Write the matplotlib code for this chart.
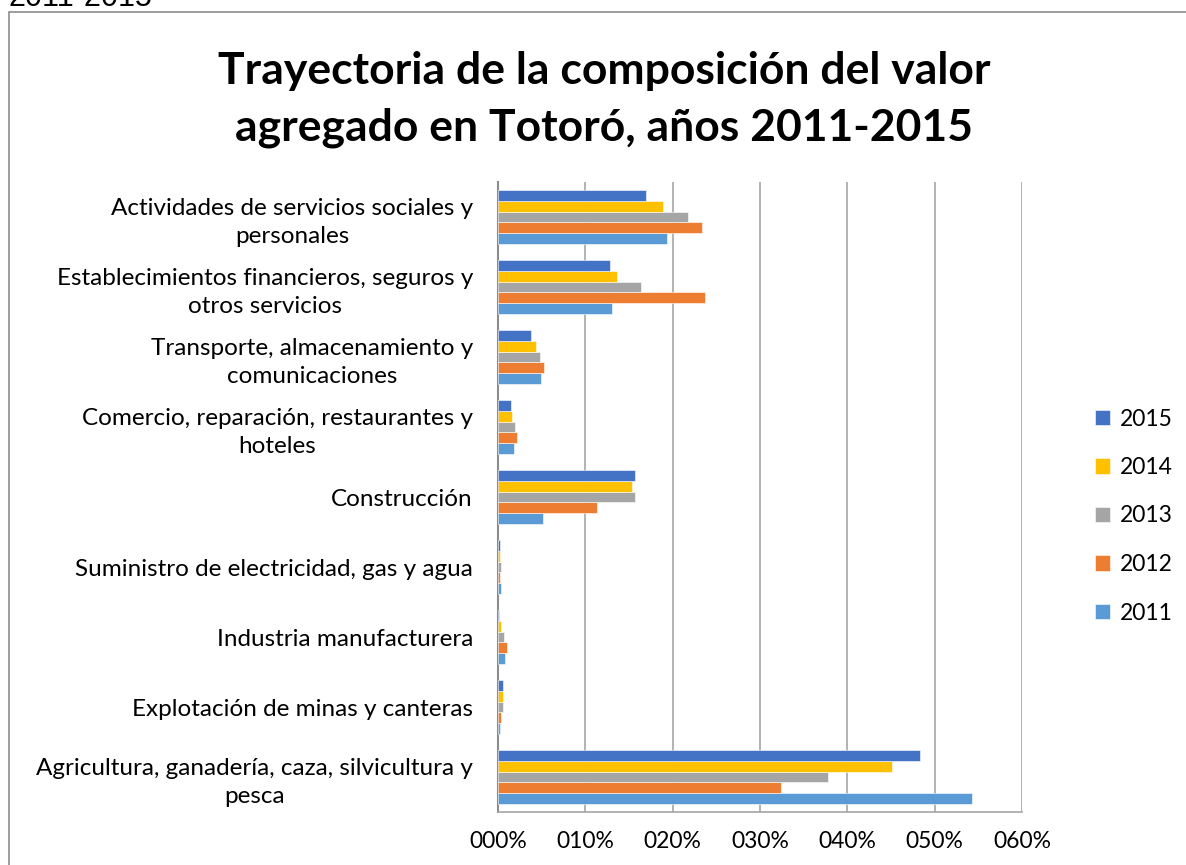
import numpy as np
import matplotlib
matplotlib.use("Agg")
import matplotlib.pyplot as plt
from matplotlib.patches import Rectangle
from matplotlib.ticker import FuncFormatter

# categorias, de abajo hacia arriba (orden de Excel)
categorias = [
    "Agricultura, ganadería, caza, silvicultura y\npesca",
    "Explotación de minas y canteras",
    "Industria manufacturera",
    "Suministro de electricidad, gas y agua",
    "Construcción",
    "Comercio, reparación, restaurantes y\nhoteles",
    "Transporte, almacenamiento y\ncomunicaciones",
    "Establecimientos financieros, seguros y\notros servicios",
    "Actividades de servicios sociales y\npersonales",
]

anios = ["2011", "2012", "2013", "2014", "2015"]

v2011 = [0.5425, 0.0020, 0.0084, 0.0030, 0.0520, 0.0188, 0.0490, 0.1300, 0.1940]
v2012 = [0.3237, 0.0038, 0.0100, 0.0027, 0.1137, 0.0218, 0.0530, 0.2370, 0.2340]
v2013 = [0.3774, 0.0054, 0.0073, 0.0038, 0.1565, 0.0195, 0.0480, 0.1636, 0.2176]
v2014 = [0.4506, 0.0054, 0.0035, 0.0023, 0.1530, 0.0165, 0.0430, 0.1360, 0.1890]
v2015 = [0.4836, 0.0054, 0.0010, 0.0020, 0.1570, 0.0146, 0.0380, 0.1280, 0.1690]

valores = [v2011, v2012, v2013, v2014, v2015]
colores = ["#5B9BD5", "#ED7D31", "#A5A5A5", "#FFC000", "#4472C4"]

plt.rcParams['font.family'] = ['Lato', 'DejaVu Sans']

fig = plt.figure(figsize=(11.86, 8.65), dpi=100)
ax = fig.add_axes([498/1186, 1 - 812/865, 524/1186, 630/865])

y = np.arange(len(categorias))
alto = 0.1526
for i, (anio, vals) in enumerate(zip(anios, valores)):
    off = (i - 2) * alto
    ax.barh(y + off, vals, height=alto, color=colores[i], label=anio,
            edgecolor="white", linewidth=0.4, zorder=3)

ax.set_xlim(0, 0.6)
ax.set_ylim(-0.5, len(categorias) - 0.5)
ax.set_xticks(np.arange(0, 0.61, 0.1))
ax.xaxis.set_major_formatter(FuncFormatter(lambda v, p: "%03d%%" % round(v * 100)))
ax.set_yticks(y)
ax.set_yticklabels(categorias, multialignment="center", fontsize=17.5,
                   linespacing=1.4)
ax.tick_params(axis="x", labelsize=16.5, length=0, pad=14)
ax.tick_params(axis="y", length=0, pad=18)
ax.grid(axis="x", color="#A6A6A6", linewidth=1.2, zorder=0)
for s in ["top", "right"]:
    ax.spines[s].set_visible(False)
ax.spines["left"].set_color("#8C8C8C")
ax.spines["left"].set_linewidth(1.5)
ax.spines["bottom"].set_color("#A6A6A6")
ax.spines["bottom"].set_linewidth(1.2)

handles, labels = ax.get_legend_handles_labels()
fig.legend(handles[::-1], labels[::-1], loc="center left",
           bbox_to_anchor=(1074/1186, 1 - 516/865), frameon=False,
           fontsize=16.5, handlelength=0.65, handleheight=0.65,
           labelspacing=1.2, handletextpad=0.45)

fig.text(604/1186, 1 - 71/865, "Trayectoria de la composición del valor",
         ha="center", va="center", fontsize=32, fontweight="bold")
fig.text(604/1186, 1 - 128/865, "agregado en Totoró, años 2011-2015",
         ha="center", va="center", fontsize=32, fontweight="bold")

# texto cortado arriba y marco del grafico
fig.text(8/1186, 1 - 6/865, "2011-2015", ha="left", va="baseline",
         fontsize=22, family="Liberation Sans")
fig.patches.append(Rectangle((9/1186, -0.1), 1.2, 1 - 12/865 + 0.1,
                             transform=fig.transFigure, fill=False,
                             edgecolor="#8C8C8C", linewidth=1.2))

fig.savefig("out.png", dpi=100)
